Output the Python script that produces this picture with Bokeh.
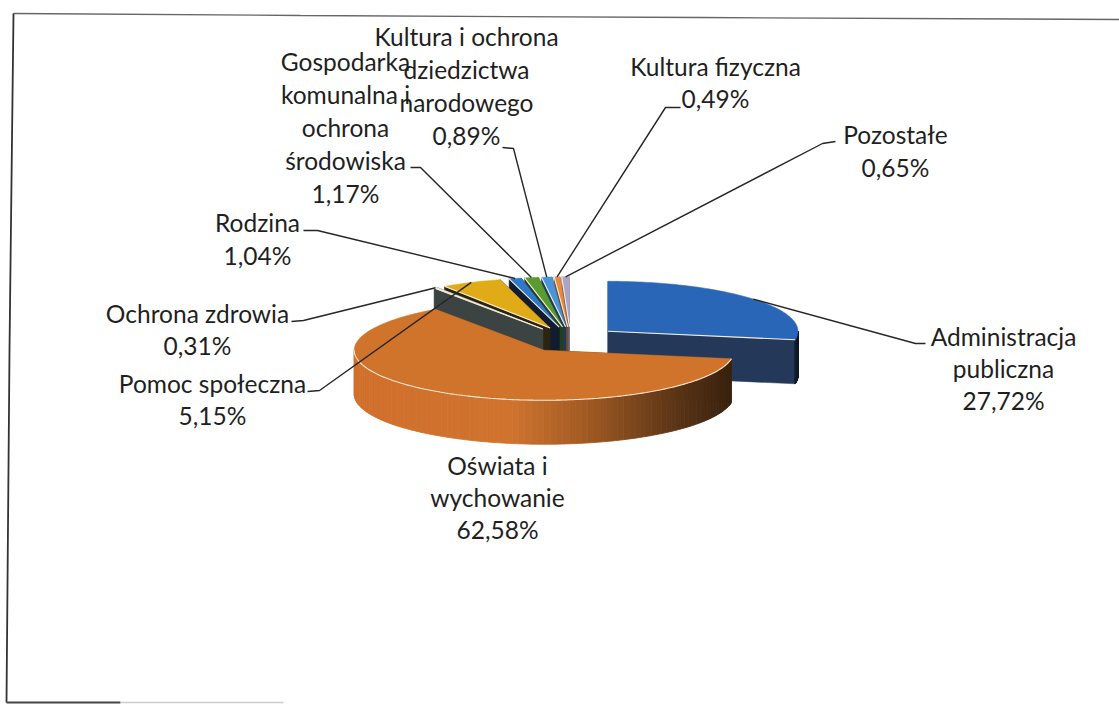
import math
from bokeh.plotting import figure
from bokeh.models import Range1d
from bokeh.core.properties import value
from bokeh.embed import file_html
from bokeh.resources import INLINE

# ---------- data ----------
categories = ["Administracja publiczna", "Oświata i wychowanie", "Ochrona zdrowia", "Pomoc społeczna",
              "Rodzina", "Gospodarka komunalna i ochrona środowiska",
              "Kultura i ochrona dziedzictwa narodowego", "Kultura fizyczna", "Pozostałe"]
shares = [27.72, 62.58, 0.31, 5.15, 1.04, 1.17, 0.89, 0.49, 0.65]
share_labels = ["27,72%", "62,58%", "0,31%", "5,15%", "1,04%", "1,17%", "0,89%", "0,49%", "0,65%"]
label_lines = [["Administracja", "publiczna"], ["Oświata i", "wychowanie"], ["Ochrona zdrowia"], ["Pomoc społeczna"],
               ["Rodzina"], ["Gospodarka", "komunalna i", "ochrona", "środowiska"],
               ["Kultura i ochrona", "dziedzictwa", "narodowego"], ["Kultura fizyczna"], ["Pozostałe"]]

# ---------- style / layout ----------
top_colors = ["#2a66b8", "#d0742c", "#ece9e0", "#e0ab17", "#2f78cc", "#5a9a30", "#4a94dc", "#e88a40", "#a8a6c4"]
wall_colors = ["#24395a", "#5a3414", "#3c4443", "#2a2410", "#121c30", "#22401a", "#1c3a5c", "#7a4c24", "#6a6880"]
label_pos = [(1003, 336, 32), (497, 465, 32), (197, 313, 32), (212, 383, 32), (257, 222, 33),
             (345, 61, 33), (466, 36, 33), (715, 66, 32), (895, 134, 33)]
leader_elbows = [[(925, 343), (915, 343)], None, [(291, 321), (303, 320)], [(307, 391), (319, 390)],
                 [(303, 230), (317, 230)], [(410, 167), (420, 167)], [(502, 147), (513, 148)],
                 [(680, 107), (665, 107)], [(835, 141), (822, 143)]]
CX, CY, RX, RY, DEPTH, EXPLODE = 570.0, 339.0, 190.0, 50.0, 44.0, 49.0
INK = "#1f1f1f"
FONT = "Lato"
FS = "24.5px"

p = figure(width=1119, height=704, x_range=Range1d(0, 1119), y_range=Range1d(704, 0),
           output_backend="svg", toolbar_location=None, min_border=0, outline_line_color=None)
p.axis.visible = False
p.xgrid.visible = False
p.ygrid.visible = False
p.background_fill_color = "white"

# scanned page frame
p.line([13, 300, 700, 1119], [13, 15, 17, 19], line_color="#666666", line_width=1.3)
p.line([13, 9, 6], [13, 350, 702], line_color="#333333", line_width=1.8)
p.line([6, 120], [702, 702], line_color="#444444", line_width=1.8)
p.line([120, 283], [702, 702], line_color="#cccccc", line_width=1.5)


def pt(cx, cy, deg, k=1.0):
    a = math.radians(deg)
    return cx + k * RX * math.sin(a), cy - k * RY * math.cos(a)


def arc(cx, cy, a0, a1, n=None):
    n = n or max(2, int(abs(a1 - a0)) + 2)
    return [pt(cx, cy, a0 + (a1 - a0) * i / (n - 1)) for i in range(n)]


def mix(stops, t):
    for (t0, c0), (t1, c1) in zip(stops, stops[1:]):
        if t <= t1:
            f = (t - t0) / (t1 - t0)
            rgb = [int(int(c0[i:i + 2], 16) * (1 - f) + int(c1[i:i + 2], 16) * f) for i in (1, 3, 5)]
            return "#%02x%02x%02x" % tuple(rgb)
    return stops[-1][1]


orange_rim = [(0.0, "#d2702c"), (0.42, "#cf7430"), (0.62, "#a05a22"), (0.85, "#5c3517"), (1.0, "#38220f")]

# slice geometry derived from the shares, clockwise from 12 o'clock
slices = []
start = 0.0
for share in shares:
    end = start + share * 3.6
    mid = (start + end) / 2
    a = math.radians(mid)
    slices.append(dict(a0=start, a1=end, mid=mid,
                       cx=CX + EXPLODE * math.sin(a),
                       cy=CY - EXPLODE * 0.26 * math.cos(a)))
    start = end

# painter's order: from the top of the pie back towards the left, then the front slice
order = [0, 8, 7, 6, 5, 4, 3, 2, 1]
for i in order:
    s = slices[i]
    cx, cy, a0, a1 = s["cx"], s["cy"], s["a0"], s["a1"]
    for ang in (a0, a1):
        x, y = pt(cx, cy, ang)
        p.patch([cx, x, x, cx], [cy, y, y + DEPTH, cy + DEPTH], fill_color=wall_colors[i],
                line_color=wall_colors[i], line_width=0.5)
    lo, hi = max(a0, 90.0), min(a1, 270.0)
    if hi > lo:
        pts = arc(cx, cy, lo, hi, 90)
        xmin, xmax = min(q[0] for q in pts), max(q[0] for q in pts)
        for (x0, y0), (x1, y1) in zip(pts, pts[1:]):
            col = mix(orange_rim, ((x0 + x1) / 2 - xmin) / (xmax - xmin)) if i == 1 else "#14202e"
            p.patch([x0, x1, x1, x0], [y0, y1, y1 + DEPTH, y0 + DEPTH], fill_color=col, line_color=col, line_width=0.8)
    rim = arc(cx, cy, a0, a1)
    p.patch([cx] + [q[0] for q in rim], [cy] + [q[1] for q in rim], fill_color=top_colors[i],
            line_color=top_colors[i], line_width=0.5)
    # pale highlight along the visible front edge of the top face
    if i == 0:
        hl = [(cx, cy), pt(cx, cy, a1)]
    elif i == 1:
        hl = arc(cx, cy, a0, 270.0)
    else:
        hl = [pt(cx, cy, a0), (cx, cy)]
    p.line([q[0] for q in hl], [q[1] for q in hl], line_color="#f6ecd8", line_width=1.1)

# leader lines end on the rim at each slice's middle angle
for i, elbow in enumerate(leader_elbows):
    if elbow is None:
        continue
    s = slices[i]
    ax, ay = pt(s["cx"], s["cy"], s["mid"])
    xs = [q[0] for q in elbow] + [ax]
    ys = [q[1] for q in elbow] + [ay]
    p.line(xs, ys, line_color="#262626", line_width=1.4)

# data labels
for lines, pct, (lx, ly, step) in zip(label_lines, share_labels, label_pos):
    rows = lines + [pct]
    p.text([lx] * len(rows), [ly + step * k for k in range(len(rows))], text=rows,
           text_font=value(FONT), text_font_size=value(FS), text_color=INK,
           text_align="center", text_baseline="middle")

open("out.html", "w").write(file_html(p, INLINE))
